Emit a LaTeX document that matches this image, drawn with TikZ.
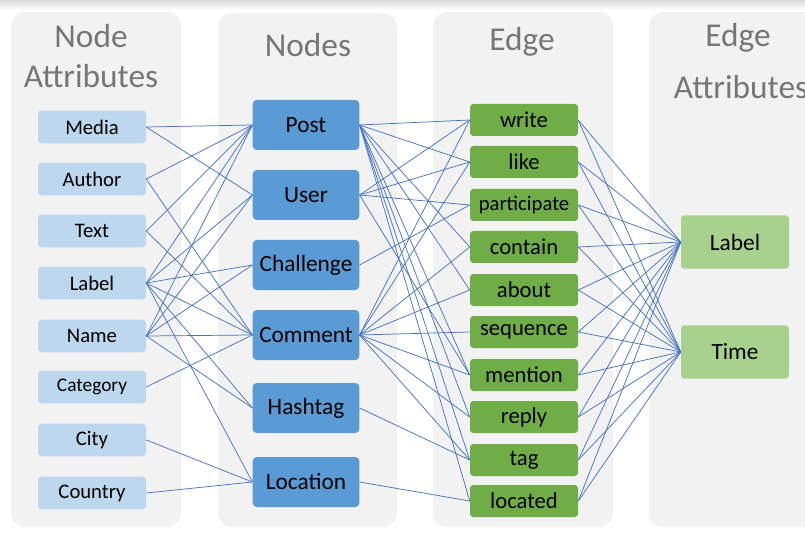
\documentclass[tikz,border=0pt]{standalone}
\usepackage{fontspec}
\setmainfont{Carlito}
\definecolor{panelc}{HTML}{F2F2F2}
\definecolor{attrc}{HTML}{BDD7EE}
\definecolor{nodec}{HTML}{5B9BD5}
\definecolor{edgec}{HTML}{70AD47}
\definecolor{eattrc}{HTML}{A9D18E}
\definecolor{linkc}{HTML}{4472C4}
\definecolor{titlec}{HTML}{767676}
\begin{document}
\begin{tikzpicture}[x=0.75pt,y=-0.75pt,
  panel/.style={fill=panelc, rounded corners=11pt},
  ttl/.style={text=titlec, align=center, font=\fontsize{25}{30}\selectfont, inner sep=0pt},
  attrbox/.style={fill=attrc, rounded corners=2.5pt, minimum width=81pt, minimum height=24.5pt, inner sep=0pt, font=\fontsize{15.5}{18}\selectfont},
  nodebox/.style={fill=nodec, rounded corners=3pt, minimum width=80pt, minimum height=37.5pt, inner sep=0pt, font=\fontsize{17.5}{20}\selectfont},
  edgebox/.style={fill=edgec, rounded corners=2.5pt, minimum width=81pt, minimum height=24pt, inner sep=0pt, font=\fontsize{17}{20}\selectfont},
  eattrbox/.style={fill=eattrc, rounded corners=2.5pt, minimum width=81pt, minimum height=40pt, inner sep=0pt, font=\fontsize{17.5}{20}\selectfont},
  link/.style={draw=linkc, line width=0.55pt}]
\useasboundingbox (0,0) rectangle (805,541);
\clip (0,0) rectangle (805,541);
\fill[white] (0,0) rectangle (805,541);
\shade[top color=black!14, bottom color=white] (0,0) rectangle (805,10);
% panels
\fill[panel] (11,12) rectangle (181,527);
\fill[panel] (218,13) rectangle (397,527);
\fill[panel] (433,12) rectangle (613,527);
\fill[panel] (649,12) rectangle (840,527);
% titles
\node[ttl] (t1) at (91,56) {Node\\Attributes};
\node[ttl] (t2) at (308,45) {Nodes};
\node[ttl] (t3) at (522,42) {Edge};
\node[ttl] (t4a) at (738,38) {Edge};
\node[ttl] (t4b) at (741,87) {Attributes};
% attributes
\node[attrbox] (aMedia) at (92,127) {Media};
\node[attrbox] (aAuthor) at (92,179) {Author};
\node[attrbox] (aText) at (92,231) {Text};
\node[attrbox] (aLabel) at (92,283) {Label};
\node[attrbox] (aName) at (92,336) {Name};
\node[attrbox, font=\fontsize{14.5}{18}\selectfont] (aCategory) at (92,387) {Category};
\node[attrbox] (aCity) at (92,440) {City};
\node[attrbox] (aCountry) at (92,493) {Country};
% nodes
\node[nodebox] (nPost) at (306,125) {Post};
\node[nodebox] (nUser) at (306,195) {User};
\node[nodebox] (nChallenge) at (306,265) {Challenge};
\node[nodebox] (nComment) at (306,335) {Comment};
\node[nodebox] (nHashtag) at (306,408) {Hashtag};
\node[nodebox] (nLocation) at (306,482) {Location};
% edges
\node[edgebox] (eWrite) at (524,120) {write};
\node[edgebox] (eLike) at (524,162) {like};
\node[edgebox, font=\fontsize{15.5}{18}\selectfont] (eParticipate) at (524,205) {participate};
\node[edgebox] (eContain) at (524,247) {contain};
\node[edgebox] (eAbout) at (524,290) {about};
\node[edgebox] (eSequence) at (524,332) {sequence};
\node[edgebox] (eMention) at (524,375) {mention};
\node[edgebox] (eReply) at (524,417) {reply};
\node[edgebox] (eTag) at (524,460) {tag};
\node[edgebox] (eLocated) at (524,501) {located};
% edge attributes
\node[eattrbox] (xLabel) at (735,242) {Label};
\node[eattrbox] (xTime) at (735,352) {Time};
% attribute -> node links
\foreach \a/\b in {Media/Post, Media/User, Author/Post, Author/Comment, Text/Post, Text/Comment,
  Label/Post, Label/User, Label/Challenge, Label/Comment, Label/Hashtag, Label/Location,
  Name/Post, Name/User, Name/Challenge, Name/Comment, Name/Hashtag,
  Category/Comment, City/Location, Country/Location}
  \draw[link] (a\a.east) -- (n\b.west);
% node -> edge links
\foreach \a/\b in {Post/Write, Post/Like, Post/Contain, Post/About, Post/Mention, Post/Reply, Post/Tag, Post/Located,
  User/Write, User/Like, User/Participate, User/Mention,
  Challenge/Participate,
  Comment/Write, Comment/Like, Comment/Contain, Comment/About, Comment/Sequence, Comment/Mention, Comment/Reply, Comment/Tag,
  Hashtag/Tag, Location/Located}
  \draw[link] (n\a.east) -- (e\b.west);
% edge -> edge attribute links
\foreach \a in {Write, Like, Participate, Contain, About, Sequence, Mention, Reply, Tag, Located}{
  \draw[link] (e\a.east) -- (xLabel.west);
  \draw[link] (e\a.east) -- (xTime.west);
}
\end{tikzpicture}
\end{document}
